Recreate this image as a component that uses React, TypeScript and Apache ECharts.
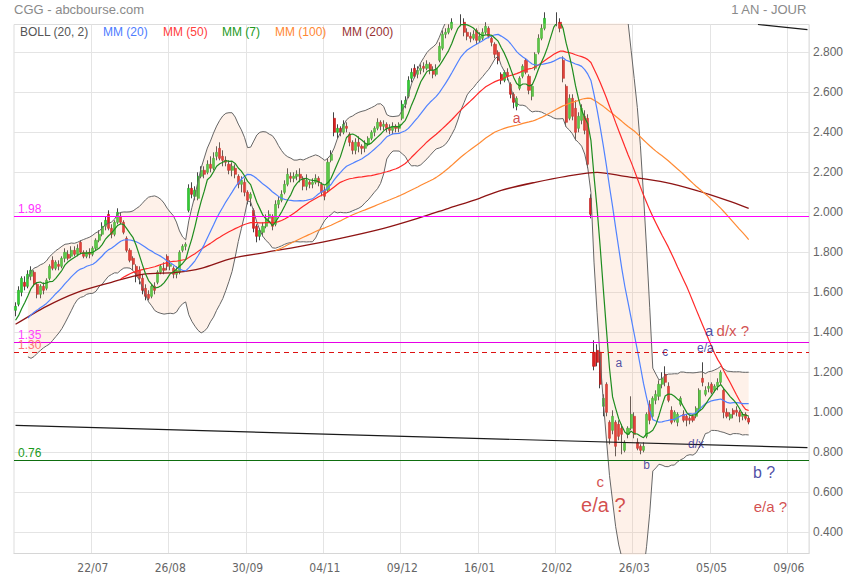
import { useEffect, useRef } from 'react';
import * as echarts from 'echarts';

// ---------- categories ----------
const START_DATE = '2019-06-17';
const CATEGORY_COUNT = 257;
const HOLIDAYS = ['2019-12-25', '2019-12-26', '2020-01-01', '2020-04-10', '2020-04-13', '2020-05-01'];

// ---------- price data: [open, close, low, high] ----------
const ohlc: number[][] = [
  [1.51,1.53,1.48,1.55],[1.54,1.61,1.53,1.63],[1.60,1.67,1.58,1.68],[1.65,1.63,1.61,1.68],[1.63,1.69,1.62,1.71],
  [1.68,1.71,1.66,1.73],[1.70,1.64,1.63,1.71],[1.64,1.59,1.57,1.65],[1.59,1.63,1.57,1.64],[1.63,1.61,1.59,1.65],
  [1.62,1.66,1.61,1.67],[1.67,1.73,1.66,1.74],[1.76,1.72,1.71,1.78],[1.72,1.75,1.71,1.76],[1.74,1.73,1.71,1.76],
  [1.73,1.77,1.72,1.78],[1.77,1.80,1.75,1.82],[1.79,1.77,1.76,1.81],[1.78,1.81,1.77,1.83],[1.81,1.79,1.78,1.83],
  [1.79,1.82,1.78,1.84],[1.85,1.80,1.79,1.86],[1.80,1.78,1.77,1.81],[1.78,1.80,1.77,1.81],[1.80,1.79,1.77,1.82],
  [1.79,1.82,1.78,1.83],[1.82,1.86,1.81,1.87],[1.86,1.89,1.85,1.91],[1.89,1.93,1.88,1.95],[1.93,1.96,1.91,1.98],
  [1.99,1.92,1.91,2.01],[1.92,1.89,1.87,1.94],[1.89,1.95,1.88,1.96],[1.95,2.00,1.94,2.02],[1.98,1.95,1.94,2.00],
  [1.95,1.90,1.89,1.96],[1.87,1.81,1.80,1.88],[1.81,1.76,1.75,1.82],[1.77,1.74,1.71,1.78],[1.73,1.68,1.65,1.74],
  [1.71,1.67,1.64,1.73],[1.67,1.61,1.59,1.69],[1.62,1.58,1.56,1.64],[1.59,1.57,1.56,1.61],[1.58,1.63,1.57,1.64],
  [1.63,1.61,1.59,1.65],[1.65,1.70,1.64,1.71],[1.70,1.73,1.69,1.74],[1.72,1.71,1.69,1.75],[1.78,1.73,1.71,1.79],
  [1.73,1.74,1.71,1.76],[1.72,1.69,1.67,1.73],[1.69,1.71,1.67,1.73],[1.70,1.80,1.69,1.81],[1.81,1.83,1.80,1.84],
  [1.83,1.84,1.81,1.85],[2.01,2.12,2.00,2.14],[2.12,2.09,2.07,2.15],[2.08,2.11,2.06,2.13],[2.07,2.18,2.06,2.20],
  [2.18,2.21,2.17,2.23],[2.21,2.19,2.17,2.23],[2.20,2.24,2.19,2.26],[2.24,2.22,2.20,2.28],[2.22,2.27,2.21,2.30],
  [2.28,2.30,2.26,2.33],[2.32,2.27,2.26,2.35],[2.28,2.26,2.23,2.31],[2.26,2.25,2.23,2.28],[2.24,2.21,2.19,2.26],
  [2.21,2.23,2.18,2.25],[2.22,2.19,2.17,2.24],[2.18,2.14,2.12,2.19],[2.14,2.16,2.10,2.18],[2.15,2.10,2.08,2.17],
  [2.10,2.06,2.04,2.11],[2.07,2.09,2.03,2.10],[2.01,1.92,1.90,2.02],[1.93,1.88,1.85,1.94],[1.88,1.91,1.86,1.92],
  [1.90,1.93,1.88,1.95],[1.93,1.97,1.92,1.99],[1.97,1.99,1.95,2.01],[1.98,1.93,1.91,1.99],[1.94,2.04,1.93,2.06],
  [2.04,2.06,2.02,2.08],[2.06,2.09,2.05,2.11],[2.10,2.14,2.09,2.16],[2.14,2.19,2.13,2.22],[2.18,2.17,2.15,2.20],
  [2.17,2.18,2.15,2.20],[2.18,2.19,2.16,2.21],[2.19,2.17,2.15,2.22],[2.17,2.13,2.11,2.18],[2.13,2.16,2.11,2.19],
  [2.15,2.14,2.12,2.16],[2.14,2.15,2.12,2.17],[2.15,2.17,2.14,2.19],[2.17,2.15,2.13,2.18],[2.14,2.10,2.08,2.15],
  [2.11,2.08,2.06,2.13],[2.11,2.25,2.10,2.27],[2.26,2.29,2.25,2.31],[2.47,2.40,2.38,2.50],[2.40,2.42,2.37,2.44],
  [2.42,2.40,2.38,2.43],[2.40,2.44,2.39,2.46],[2.43,2.42,2.40,2.45],[2.39,2.35,2.33,2.40],[2.35,2.31,2.29,2.36],
  [2.31,2.35,2.29,2.37],[2.35,2.33,2.30,2.38],[2.33,2.32,2.29,2.34],[2.32,2.34,2.30,2.36],[2.34,2.37,2.33,2.38],
  [2.37,2.40,2.36,2.41],[2.40,2.42,2.38,2.43],[2.42,2.45,2.41,2.47],[2.45,2.43,2.41,2.46],[2.43,2.44,2.41,2.46],
  [2.44,2.42,2.40,2.45],[2.42,2.41,2.39,2.44],[2.41,2.43,2.39,2.45],[2.43,2.42,2.40,2.44],[2.42,2.44,2.40,2.45],
  [2.47,2.54,2.46,2.56],[2.54,2.56,2.52,2.58],[2.58,2.66,2.57,2.68],[2.67,2.70,2.65,2.72],[2.72,2.68,2.67,2.74],
  [2.69,2.71,2.67,2.73],[2.71,2.72,2.69,2.74],[2.73,2.72,2.70,2.75],[2.72,2.74,2.71,2.76],[2.74,2.71,2.69,2.75],
  [2.71,2.69,2.67,2.73],[2.69,2.72,2.68,2.74],[2.76,2.83,2.75,2.85],[2.82,2.89,2.81,2.91],[2.89,2.90,2.87,2.92],
  [2.90,2.92,2.89,2.94],[2.92,2.95,2.91,2.97],[2.95,2.98,2.94,3.01],[2.98,2.97,2.94,3.00],[2.97,2.96,2.93,2.99],
  [2.95,2.90,2.88,2.97],[2.90,2.88,2.86,2.92],[2.88,2.87,2.85,2.90],[2.87,2.89,2.86,2.91],[2.91,2.86,2.84,2.92],
  [2.86,2.88,2.85,2.90],[2.87,2.90,2.86,2.92],[2.90,2.93,2.89,2.95],[2.92,2.88,2.87,2.93],[2.87,2.85,2.83,2.88],
  [2.84,2.79,2.77,2.85],[2.80,2.76,2.74,2.81],[2.69,2.66,2.64,2.70],[2.66,2.70,2.65,2.71],[2.70,2.68,2.66,2.72],
  [2.64,2.59,2.57,2.65],[2.59,2.55,2.52,2.60],[2.53,2.57,2.51,2.58],[2.62,2.67,2.61,2.68],[2.68,2.73,2.67,2.74],
  [2.76,2.70,2.69,2.77],[2.68,2.61,2.59,2.69],[2.58,2.63,2.56,2.64],[2.72,2.79,2.71,2.80],[2.80,2.87,2.79,2.89],
  [2.87,2.92,2.86,2.94],[2.92,2.97,2.91,3.00],[2.97,2.99,2.95,3.02],[2.99,2.96,2.94,3.01],[2.96,2.98,2.94,3.00],
  [2.98,2.95,2.93,3.00],[2.95,2.92,2.90,2.97],[2.76,2.67,2.65,2.78],[2.63,2.45,2.43,2.64],[2.47,2.57,2.46,2.59],
  [2.57,2.48,2.46,2.59],[2.52,2.40,2.36,2.56],[2.42,2.48,2.40,2.50],[2.46,2.52,2.44,2.54],[2.48,2.41,2.39,2.51],
  [2.47,2.24,2.22,2.49],[2.07,1.99,1.97,2.09],[1.30,1.23,1.21,1.36],[1.31,1.25,1.23,1.34],[1.30,1.14,1.12,1.32],
  [1.03,1.07,0.98,1.09],[1.14,1.00,0.98,1.15],[0.95,0.87,0.84,0.96],[0.91,0.98,0.89,1.01],[0.95,0.83,0.78,0.96],
  [0.94,0.88,0.86,0.96],[0.92,0.89,0.79,0.94],[0.81,0.85,0.80,0.86],[0.89,0.92,0.87,0.93],[0.92,0.99,0.91,1.08],
  [0.98,0.89,0.87,1.00],[0.85,0.82,0.81,0.87],[0.83,0.81,0.79,0.84],[0.81,0.83,0.80,0.85],[0.88,0.99,0.87,1.00],
  [1.04,0.96,0.94,1.06],[0.98,1.07,0.97,1.08],[1.06,1.09,1.04,1.11],[1.08,1.14,1.06,1.16],[1.14,1.17,1.12,1.20],
  [1.19,1.15,1.13,1.23],[1.13,1.06,1.05,1.15],[1.01,0.95,0.94,1.03],[0.96,1.00,0.95,1.01],[0.95,0.99,0.93,1.00],
  [1.04,1.07,1.03,1.08],[0.99,0.96,0.95,1.01],[0.98,0.96,0.93,0.99],[0.97,0.96,0.94,0.98],[0.98,0.96,0.95,0.99],
  [0.98,1.02,0.97,1.03],[1.01,1.11,1.00,1.12],[1.17,1.15,1.13,1.25],[1.09,1.11,1.08,1.13],[1.12,1.13,1.10,1.15],
  [1.14,1.10,1.09,1.15],[1.11,1.13,1.10,1.14],[1.13,1.15,1.11,1.17],[1.15,1.20,1.14,1.21],[1.11,1.00,0.97,1.12],
  [1.00,0.98,0.97,1.02],[0.97,0.99,0.96,1.00],[1.01,0.99,0.97,1.02],[1.01,1.00,0.98,1.03],[1.00,0.98,0.95,1.01],
  [0.98,0.99,0.96,1.00],[0.99,0.97,0.96,1.00],[0.97,0.951,0.94,0.98],
];

// closes before the visible window (seed the moving averages)
const preCloses = [1.40,1.38,1.37,1.39,1.41,1.43,1.42,1.40,1.41,1.44,1.43,1.42,1.45,1.46,1.49];

// MM(200): [category index, value]
const mm200Points: number[][] = [
  [0,1.44],[10,1.53],[20,1.60],[31,1.65],[41,1.69],[52,1.70],[60,1.72],[70,1.77],[81,1.80],[92,1.83],
  [105,1.87],[119,1.92],[130,1.97],[140,2.02],[150,2.07],[157,2.11],[168,2.15],[178,2.18],[188,2.20],
  [197,2.18],[210,2.15],[220,2.11],[230,2.06],[237,2.02],
];

const yTicks = [0.4, 0.6, 0.8, 1.0, 1.2, 1.4, 1.6, 1.8, 2.0, 2.2, 2.4, 2.6, 2.8];
const Y_MIN = 0.294;
const Y_MAX = 2.939;

// horizontal levels: [value, label, lineColor, labelColor, dashed]
const levels: [number, string, string, string, boolean][] = [
  [1.98, '1.98', '#ff00ff', '#ff33ff', false],
  [1.35, '1.35', '#e600e6', '#ff44ff', false],
  [1.30, '1.30', '#dd1111', '#ff7777', true],
  [0.76, '0.76', '#0f6e0f', '#1a9a1a', false],
];

// trend lines: [startIndex, startValue, endIndex, endValue]
const trendLines: number[][] = [
  [0, 0.935, 256, 0.823],
  [240, 2.939, 256, 2.913],
];

// right-hand price tags: [value, text, background]
const priceTags: [number, string, string][] = [
  [0.951, '0.951', '#3b6ff5'],
  [0.76, '0.760', '#b00000'],
];

// annotations: [index, value, text(rich), fontSize]
const annotations: [number, number, string, number][] = [
  [162, 2.47, '{r|a}', 14],
  [195, 1.245, '{n|a}', 12],
  [210, 1.30, '{n|c}', 12],
  [223, 1.32, '{n|e/a}', 12],
  [230, 1.41, '{n|a} {r|d/x ?}', 15],
  [220, 0.84, '{n|d/x}', 12],
  [204, 0.735, '{n|b}', 12],
  [189, 0.655, '{r|c}', 15],
  [190, 0.535, '{r|e/a ?}', 20],
  [242, 0.70, '{n|b ?}', 16],
  [244, 0.53, '{r|e/a ?}', 15],
];

const legendItems: [string, string, number][] = [
  ['BOLL (20, 2)', '#555555', 20],
  ['MM (20)', '#4d7cff', 103],
  ['MM (50)', '#ff4040', 163],
  ['MM (7)', '#229922', 222],
  ['MM (100)', '#ff8833', 275],
  ['MM (200)', '#993333', 342],
];

const FONT = "'Liberation Sans', Arial, sans-serif";
const NARROW = "'Liberation Sans Narrow', 'DejaVu Sans Condensed', 'Liberation Sans', sans-serif";

function tradingDays(start: string, n: number, holidays: string[]): string[] {
  const out: string[] = [];
  const d = new Date(start + 'T12:00:00Z');
  while (out.length < n) {
    const dow = d.getUTCDay();
    const iso = d.toISOString().slice(0, 10);
    if (dow !== 0 && dow !== 6 && holidays.indexOf(iso) < 0) {
      out.push(iso.slice(8, 10) + '/' + iso.slice(5, 7));
    }
    d.setUTCDate(d.getUTCDate() + 1);
  }
  return out;
}

export default function App() {
  const ref = useRef<HTMLDivElement>(null);

  useEffect(() => {
    if (!ref.current) return;
    const chart = echarts.init(ref.current, undefined, { renderer: 'svg' });

    const dates = tradingDays(START_DATE, CATEGORY_COUNT, HOLIDAYS);
    const closes = ohlc.map((c) => c[1]);
    const all = preCloses.concat(closes);
    const off = preCloses.length;

    const sma = (n: number) =>
      closes.map((_, i) => {
        const g = i + off;
        if (g - n + 1 < 0) return '-';
        let s = 0;
        for (let k = g - n + 1; k <= g; k++) s += all[k];
        return +(s / n).toFixed(4);
      });

    const upper: (number | string)[] = [];
    const lower: (number | string)[] = [];
    closes.forEach((_, i) => {
      const g = i + off;
      if (g - 19 < 0) {
        upper.push('-');
        lower.push('-');
        return;
      }
      let s = 0;
      for (let k = g - 19; k <= g; k++) s += all[k];
      const m = s / 20;
      let v = 0;
      for (let k = g - 19; k <= g; k++) v += (all[k] - m) * (all[k] - m);
      const sd = Math.sqrt(v / 20);
      upper.push(+(m + 2 * sd).toFixed(4));
      lower.push(+(m - 2 * sd).toFixed(4));
    });
    const bandWidth = upper.map((u, i) =>
      u === '-' ? '-' : +((u as number) - (lower[i] as number)).toFixed(4)
    );

    const bodies = ohlc.map((c) => [c[0], c[1], Math.min(c[0], c[1]), Math.max(c[0], c[1])]);

    const labelEvery = (i: number) => i > 0 && i % 25 === 0;

    const markData: any[] = [];
    levels.forEach(([v, txt, lc, tc, dashed]) => {
      markData.push({
        yAxis: v,
        lineStyle: { color: lc, width: 1, type: dashed ? [5, 4] : 'solid' },
        label: {
          show: true,
          position: 'insideStartTop',
          formatter: txt,
          color: tc,
          fontSize: 12,
          fontFamily: FONT,
          distance: [4, 1],
        },
      });
    });
    trendLines.forEach(([i0, v0, i1, v1]) => {
      markData.push([
        { coord: [i0, v0], lineStyle: { color: '#1a1a1a', width: 1.2, type: 'solid' }, label: { show: false } },
        { coord: [i1, v1] },
      ]);
    });
    priceTags.forEach(([v, txt, bg]) => {
      markData.push({
        yAxis: v,
        lineStyle: { opacity: 0, width: 0 },
        label: {
          show: true,
          position: 'end',
          formatter: txt,
          color: '#ffffff',
          backgroundColor: bg,
          padding: [3, 6, 2, 5],
          fontSize: 13,
          fontFamily: FONT,
          distance: 0,
        },
      });
    });

    const lineBase = { type: 'line', showSymbol: false, symbol: 'none', silent: true };

    const option: any = {
      animation: false,
      backgroundColor: '#ffffff',
      grid: {
        left: 14,
        right: 46,
        top: 24.5,
        bottom: 26.5,
        show: true,
        borderColor: '#dddddd',
        borderWidth: 1,
      },
      xAxis: {
        type: 'category',
        data: dates,
        boundaryGap: true,
        axisLine: { show: true, lineStyle: { color: '#d6d6d6' } },
        axisTick: { show: false },
        axisLabel: {
          interval: labelEvery,
          color: '#666666',
          fontSize: 12,
          fontFamily: NARROW,
          margin: 8,
        },
        splitLine: { show: true, interval: labelEvery, lineStyle: { color: '#e4e4e4' } },
      },
      yAxis: {
        type: 'value',
        position: 'right',
        min: Y_MIN,
        max: Y_MAX,
        axisLine: { show: false },
        axisTick: { show: false, customValues: yTicks },
        axisLabel: {
          customValues: yTicks,
          formatter: (v: number) => v.toFixed(3),
          color: '#666666',
          fontSize: 12,
          fontFamily: FONT,
          margin: 4,
        },
        splitLine: { show: true, lineStyle: { color: '#e4e4e4' } },
      },
      graphic: [
        { type: 'text', left: 14, top: 3, style: { text: 'CGG - abcbourse.com', fill: '#8a8a8a', font: `13px ${FONT}` } },
        { type: 'text', right: 48, top: 3, style: { text: '1 AN - JOUR', fill: '#8a8a8a', font: `13px ${FONT}` } },
        ...legendItems.map(([t, c, x]) => ({
          type: 'text',
          left: x,
          top: 26,
          z: 100,
          style: { text: t, fill: c, font: `12px ${FONT}` },
        })),
      ],
      series: [
        { ...lineBase, name: 'bollBase', data: lower, stack: 'boll', lineStyle: { opacity: 0 } },
        {
          ...lineBase,
          name: 'bollFill',
          data: bandWidth,
          stack: 'boll',
          lineStyle: { opacity: 0 },
          areaStyle: { color: 'rgba(250,188,150,0.3)', origin: 'auto' },
        },
        { ...lineBase, name: 'bollUp', data: upper, lineStyle: { color: '#666666', width: 1 } },
        { ...lineBase, name: 'bollLow', data: lower, lineStyle: { color: '#666666', width: 1 } },
        {
          type: 'candlestick',
          name: 'wicks',
          data: ohlc,
          barWidth: 1,
          silent: true,
          itemStyle: { color: '#444444', color0: '#444444', borderColor: '#444444', borderColor0: '#444444', borderWidth: 1 },
        },
        {
          type: 'candlestick',
          name: 'bodies',
          data: bodies,
          barWidth: 2.6,
          silent: true,
          itemStyle: { color: '#33cc33', color0: '#dd2222', borderColor: '#22aa22', borderColor0: '#bb1515', borderWidth: 0.6 },
        },
        { ...lineBase, name: 'MM200', data: mm200Points, smooth: 0.3, lineStyle: { color: '#8e1414', width: 1.3 } },
        { ...lineBase, name: 'MM100', data: sma(100), lineStyle: { color: '#ff8a33', width: 1.2 } },
        { ...lineBase, name: 'MM50', data: sma(50), lineStyle: { color: '#ff2a2a', width: 1.2 } },
        { ...lineBase, name: 'MM20', data: sma(20), lineStyle: { color: '#5082ff', width: 1.2 } },
        { ...lineBase, name: 'MM7', data: sma(7), lineStyle: { color: '#1e8c1e', width: 1.2 } },
        {
          type: 'scatter',
          name: 'notes',
          silent: true,
          symbolSize: 1,
          itemStyle: { color: 'rgba(0,0,0,0)' },
          data: annotations.map(([i, v, t, fs]) => ({
            value: [i, v],
            label: {
              show: true,
              position: 'inside',
              formatter: t,
              rich: {
                n: { color: '#24248f', fontSize: fs, fontFamily: FONT },
                r: { color: '#c81e1e', fontSize: fs, fontFamily: FONT },
              },
            },
          })),
          markLine: {
            silent: true,
            symbol: ['none', 'none'],
            data: markData,
          },
          z: 10,
        },
      ],
    };

    chart.setOption(option);
    return () => chart.dispose();
  }, []);

  return (
    <div
      ref={ref}
      style={{ position: 'fixed', left: 0, top: 0, width: 855, height: 580, background: '#fff' }}
    />
  );
}
